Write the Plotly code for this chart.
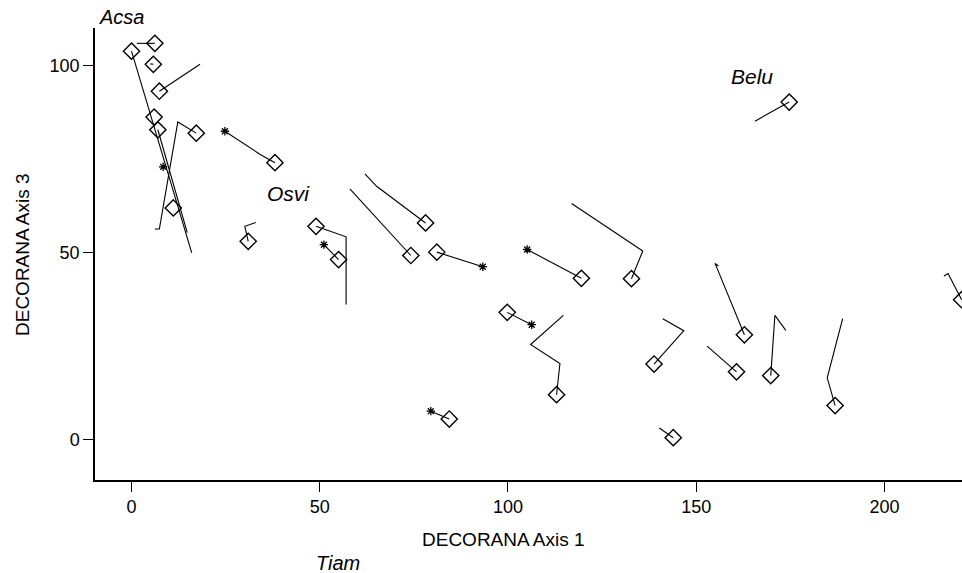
import plotly.graph_objects as go

# Trajectories: first point is the current (diamond) position, following points trace back.
traj_x = [
    [0.0, 16.0],
    [6.2, 1.4],
    [5.8, 5.0],
    [7.4, 18.2],
    [6.0],
    [7.0, 14.8],
    [17.2, 12.3, 7.4, 6.2],
    [11.1],
    [38.1, 34.2, 24.8],
    [31.0, 30.1, 33.0],
    [49.0, 57.0, 57.0],
    [55.0, 51.1],
    [74.2, 58.0],
    [78.1, 65.1, 62.0],
    [81.1, 93.3],
    [119.5, 105.1],
    [99.8, 106.3],
    [132.8, 135.8, 116.9],
    [112.9, 113.8, 106.0, 114.7],
    [138.8, 146.7, 141.1],
    [84.4, 79.5],
    [143.9, 140.2],
    [162.8, 155.0, 155.9],
    [160.7, 152.9],
    [169.8, 170.9, 173.8],
    [186.9, 184.8, 188.9],
    [174.7, 165.6],
    [220.5, 216.9, 215.8],
]
traj_y = [
    [103.8, 49.9],
    [105.9, 105.9],
    [100.3, 100.4],
    [93.1, 100.3],
    [86.2],
    [82.8, 55.3],
    [81.9, 84.9, 56.3, 56.3],
    [61.9],
    [74.0, 76.2, 82.4],
    [53.0, 57.0, 58.0],
    [57.0, 54.2, 36.1],
    [48.1, 52.1],
    [49.2, 67.0],
    [57.9, 67.7, 71.0],
    [50.1, 46.2],
    [43.1, 50.8],
    [34.0, 30.7],
    [43.0, 50.4, 63.1],
    [12.0, 20.3, 25.4, 33.2],
    [20.2, 29.1, 32.3],
    [5.5, 7.6],
    [0.5, 3.1],
    [28.0, 47.1, 46.4],
    [18.1, 25.0],
    [17.1, 33.2, 29.2],
    [9.1, 16.5, 32.3],
    [90.2, 85.1],
    [37.4, 44.4, 43.7],
]

# Starting points marked with an asterisk
star_x = [8.4, 24.8, 51.1, 93.3, 105.1, 106.3, 79.5]
star_y = [72.9, 82.4, 52.1, 46.2, 50.8, 30.7, 7.6]

# Species labels inside the plot (data coordinates)
label_text = ["Osvi", "Belu"]
label_x = [41.8, 164.8]
label_y = [65.8, 97.1]
# Species labels outside the plot (paper coordinates)
outer_text = ["Acsa", "Tiam"]
outer_x = [0.030, 0.2803]
outer_y = [1.0243, -0.1836]

x_title = "DECORANA Axis 1"
y_title = "DECORANA Axis 3"

FONT = "Liberation Sans"

line_x, line_y = [], []
for xs, ys in zip(traj_x, traj_y):
    if len(xs) > 1:
        line_x += xs + [None]
        line_y += ys + [None]

fig = go.Figure()
fig.add_trace(go.Scatter(x=line_x, y=line_y, mode="lines",
                         line=dict(color="black", width=1.1),
                         hoverinfo="skip", showlegend=False))
fig.add_trace(go.Scatter(x=[xs[0] for xs in traj_x], y=[ys[0] for ys in traj_y],
                         mode="markers",
                         marker=dict(symbol="diamond-open", size=12.5,
                                     color="black", line=dict(width=1.4, color="black")),
                         showlegend=False))
fig.add_trace(go.Scatter(x=star_x, y=star_y, mode="markers",
                         marker=dict(symbol="asterisk-open", size=7,
                                     color="black", line=dict(width=1.3, color="black")),
                         showlegend=False))

for t, x, y in zip(label_text, label_x, label_y):
    fig.add_annotation(x=x, y=y, xref="x", yref="y", text="<i>%s</i>" % t,
                       showarrow=False, font=dict(family=FONT, size=21, color="black"))
for t, x, y in zip(outer_text, outer_x, outer_y):
    fig.add_annotation(x=x, y=y, xref="paper", yref="paper", text="<i>%s</i>" % t,
                       showarrow=False, xanchor="center", yanchor="middle",
                       font=dict(family=FONT, size=20, color="black"))

fig.add_annotation(x=0.4706, y=-0.1327, xref="paper", yref="paper", text=x_title,
                   showarrow=False, xanchor="center", yanchor="middle",
                   font=dict(family=FONT, size=19, color="black"))
fig.add_annotation(x=-0.0842, y=0.5, xref="paper", yref="paper", text=y_title,
                   showarrow=False, xanchor="center", yanchor="middle", textangle=-90,
                   font=dict(family=FONT, size=19, color="black"))

fig.update_layout(
    width=962, height=573,
    margin=dict(l=95, r=0, t=28, b=93, autoexpand=False),
    paper_bgcolor="white", plot_bgcolor="white",
    font=dict(family=FONT, size=18, color="black"),
)
fig.update_xaxes(range=[-9.7, 220.6], tickvals=[0, 50, 100, 150, 200],
                 showgrid=False, zeroline=False, showline=True, linecolor="black",
                 linewidth=1.5, ticks="outside", ticklen=10, tickcolor="black",
                 automargin=False)
fig.update_yaxes(range=[-10.8, 110], tickvals=[0, 50, 100],
                 showgrid=False, zeroline=False, showline=True, linecolor="black",
                 linewidth=1.5, ticks="outside", ticklen=10, tickcolor="black",
                 automargin=False)

fig.write_html("out.html", config={"displayModeBar": False},
               post_script="document.body.style.margin='0px';")
